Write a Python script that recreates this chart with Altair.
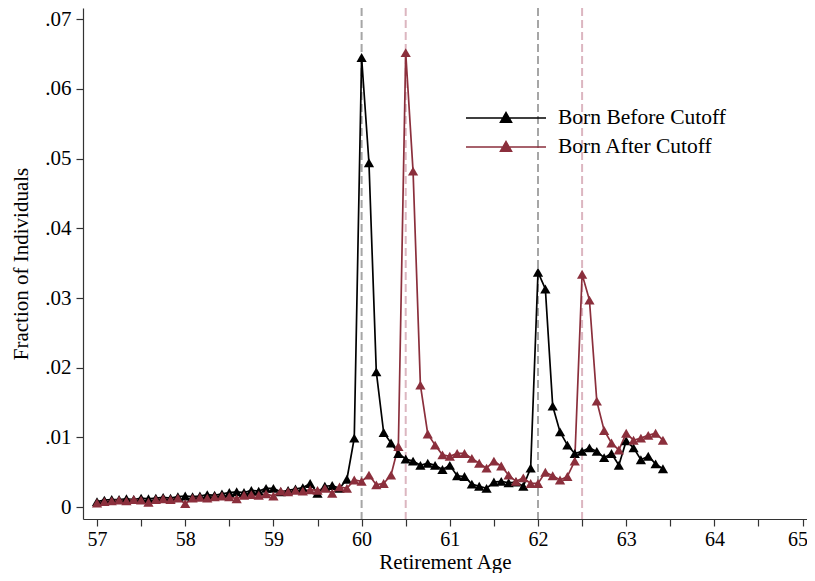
import altair as alt
import pandas as pd

# Age in months (57y0m ... 63y5m)
months = list(range(684, 762))

born_before = [
    0.0008, 0.0010, 0.0011, 0.0011, 0.0012, 0.0011, 0.0013, 0.0012, 0.0013, 0.0014, 0.0013, 0.0015,
    0.0016, 0.0015, 0.0016, 0.0018, 0.0017, 0.0019, 0.0021, 0.0022, 0.0021, 0.0024, 0.0023, 0.0027,
    0.0027, 0.0022, 0.0024, 0.0026, 0.0028, 0.0034, 0.0020, 0.0030, 0.0031, 0.0027, 0.0040, 0.0099,
    0.0645, 0.0494, 0.0194, 0.0107, 0.0092, 0.0077, 0.0069, 0.0066, 0.0060, 0.0063, 0.0060, 0.0054,
    0.0060, 0.0045, 0.0044, 0.0033, 0.0030, 0.0027, 0.0036, 0.0037, 0.0035, 0.0036, 0.0030, 0.0056,
    0.0337, 0.0313, 0.0145, 0.0108, 0.0089, 0.0077, 0.0080, 0.0085, 0.0080, 0.0071, 0.0077, 0.0060,
    0.0095, 0.0085, 0.0068, 0.0073, 0.0062, 0.0055,
]

born_after = [
    0.0006, 0.0008, 0.0009, 0.0010, 0.0009, 0.0011, 0.0010, 0.0007, 0.0011, 0.0012, 0.0011, 0.0013,
    0.0005, 0.0013, 0.0014, 0.0013, 0.0015, 0.0016, 0.0015, 0.0012, 0.0017, 0.0018, 0.0017, 0.0019,
    0.0016, 0.0023, 0.0022, 0.0024, 0.0023, 0.0025, 0.0024, 0.0027, 0.0020, 0.0029, 0.0027, 0.0039,
    0.0037, 0.0046, 0.0032, 0.0034, 0.0046, 0.0087, 0.0652, 0.0482, 0.0175, 0.0105, 0.0089, 0.0075,
    0.0073, 0.0077, 0.0077, 0.0070, 0.0063, 0.0056, 0.0066, 0.0059, 0.0046, 0.0037, 0.0042, 0.0034,
    0.0034, 0.0050, 0.0045, 0.0039, 0.0044, 0.0066, 0.0334, 0.0297, 0.0152, 0.0110, 0.0092, 0.0082,
    0.0106, 0.0096, 0.0099, 0.0103, 0.0106, 0.0096,
]

series_names = ["Born Before Cutoff", "Born After Cutoff"]
series_colors = ["#000000", "#8B2F3C"]

gray_cutoffs = [60, 62]
pink_cutoffs = [60.5, 62.5]

x_ticks = [57, 57.5, 58, 58.5, 59, 59.5, 60, 60.5, 61, 61.5, 62, 62.5, 63, 63.5, 64, 64.5, 65]
y_ticks = [0, 0.01, 0.02, 0.03, 0.04, 0.05, 0.06, 0.07]

rows = []
for name, vals in zip(series_names, [born_before, born_after]):
    for m, v in zip(months, vals):
        rows.append({"age": m / 12.0, "value": v, "series": name})
df = pd.DataFrame(rows)

FONT = "Liberation Serif"

x_enc = alt.X(
    "age:Q",
    scale=alt.Scale(domain=[56.841, 65.05], nice=False, zero=False),
    axis=alt.Axis(
        values=x_ticks,
        labelExpr="datum.value % 1 == 0 ? format(datum.value, 'd') : ''",
        labelAlign={"condition": {"test": "datum.value >= 65", "value": "right"}, "value": "center"},
        labelOffset={"condition": {"test": "datum.value >= 65", "value": 5}, "value": 0},
        labelOverlap=False,
        labelFontSize=20,
        title="Retirement Age",
        grid=False,
        tickSize=7,
        labelPadding=3,
        titlePadding=2,
    ),
)
y_enc = alt.Y(
    "value:Q",
    scale=alt.Scale(domain=[-0.0017, 0.0716], nice=False, zero=False),
    axis=alt.Axis(
        values=y_ticks,
        labelExpr="datum.value == 0 ? '0' : replace(format(datum.value, '.2f'), '0.', '.')",
        title="Fraction of Individuals",
        grid=False,
        tickSize=7,
        labelPadding=5,
        titlePadding=13,
    ),
)

color_scale = alt.Scale(domain=series_names, range=series_colors)

legend = alt.Legend(
    title=None,
    orient="none",
    legendX=412,
    legendY=99,
    symbolType="M-4,0H4M-0.55,0.42H0.55L0,-0.55Z",
    symbolSize=400,
    symbolStrokeWidth=1.6,
    labelFont=FONT,
    labelFontSize=21.5,
    labelColor="#000000",
    labelOffset=41,
    labelLimit=400,
    rowPadding=7,
    padding=0,
)

gray_rules = alt.Chart(pd.DataFrame({"age": gray_cutoffs})).mark_rule(
    color="#a6a6a6", strokeWidth=2, strokeDash=[8, 4]
).encode(x=alt.X("age:Q"))

pink_rules = alt.Chart(pd.DataFrame({"age": pink_cutoffs})).mark_rule(
    color="#dcb6c0", strokeWidth=2, strokeDash=[8, 4]
).encode(x=alt.X("age:Q"))

base = alt.Chart(df)

lines = base.mark_line(strokeWidth=1.7).encode(
    x=x_enc,
    y=y_enc,
    color=alt.Color("series:N", scale=color_scale, legend=legend, sort=series_names),
    order=alt.Order("age:Q"),
)

points = base.mark_point(shape="triangle-up", filled=True, size=105, opacity=1).encode(
    x=x_enc,
    y=y_enc,
    color=alt.Color("series:N", scale=color_scale, legend=legend, sort=series_names),
)

chart = alt.layer(gray_rules, pink_rules, lines, points).properties(
    width=724,
    height=511,
    background="white",
    autosize=alt.AutoSizeParams(type="none"),
    padding={"left": 75, "top": 0, "right": 0, "bottom": 54},
).configure_view(stroke=None).configure_axis(
    labelFont=FONT,
    titleFont=FONT,
    labelFontSize=21,
    titleFontSize=21,
    titleFontWeight="normal",
    labelColor="#000000",
    titleColor="#000000",
    domainColor="#333333",
    tickColor="#333333",
    domainWidth=1.2,
    tickWidth=1.2,
)

chart.save("out.html", embed_options={"renderer": "svg", "actions": False})
